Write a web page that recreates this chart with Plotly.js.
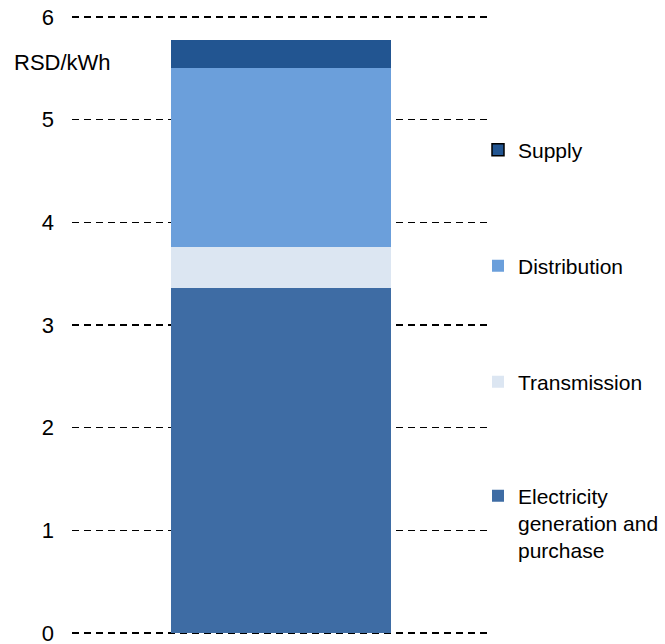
<!DOCTYPE html>
<html>
<head>
<meta charset="utf-8">
<script src="https://cdn.plot.ly/plotly-3.0.1.min.js"></script>
<style>html,body{margin:0;padding:0;background:#fff;}#chart{width:665px;height:644px;}</style>
</head>
<body>
<div id="chart"></div>
<script>
// Data
const categories = ["Price"];
const seriesNames = ["Electricity<br>generation and<br>purchase", "Transmission", "Distribution", "Supply"];
const generation = [3.36];
const transmission = [0.40];
const distribution = [1.74];
const supply = [0.28];
const yTickValues = [0, 1, 2, 3, 4, 5, 6];
const yTickLabels = ["0", "1", "2", "3", "4", "5", "6"];
const unitLabel = "RSD/kWh";

const colors = {
  generation: "#3E6CA4",
  transmission: "#DCE6F2",
  distribution: "#6B9FDB",
  supply: "#225591"
};
const FONT = "Liberation Sans, Arial, sans-serif";

const traces = [
  {type: "bar", x: categories, y: generation, name: seriesNames[0],
   marker: {color: colors.generation}, legend: "legend4"},
  {type: "bar", x: categories, y: transmission, name: seriesNames[1],
   marker: {color: colors.transmission}, legend: "legend3"},
  {type: "bar", x: categories, y: distribution, name: seriesNames[2],
   marker: {color: colors.distribution}, legend: "legend2"},
  {type: "bar", x: categories, y: supply, name: seriesNames[3],
   marker: {color: colors.supply}, showlegend: false},
  // legend-only entry for Supply (outlined symbol as in the reference)
  {type: "bar", x: categories, y: [null], name: seriesNames[3],
   marker: {color: colors.supply, line: {color: "#000", width: 1.5}}, legend: "legend"}
];

// y range padded by 0.01 so the 0 and 6 gridlines are drawn
const yMin = -0.01, yMax = 6.01;
const W = 665, H = 644;
const plotTop = 16, plotBottom = 634;
const plotLeft = 72, plotRight = 490;
function cy(pix) { return 1 - pix / H; }
function cx(pix) { return pix / W; }

const legendBase = {
  bgcolor: "rgba(0,0,0,0)", borderwidth: 0,
  font: {family: FONT, size: 21, color: "#000"},
  xref: "container", yref: "container",
  xanchor: "left", yanchor: "middle", x: cx(478), itemwidth: 30
};

const layout = {
  width: W, height: H,
  margin: {l: plotLeft, r: W - plotRight, t: plotTop, b: H - plotBottom, pad: 0, autoexpand: false},
  paper_bgcolor: "#fff", plot_bgcolor: "#fff",
  barmode: "stack",
  bargap: 0.476,
  font: {family: FONT, size: 21, color: "#000"},
  xaxis: {showticklabels: false, showgrid: false, zeroline: false, showline: false, ticks: "", fixedrange: true, automargin: false},
  yaxis: {
    range: [yMin, yMax], tickvals: yTickValues, ticktext: yTickLabels,
    showgrid: true, gridcolor: "#000", gridwidth: 1.5, griddash: "7px,5px",
    zeroline: false, showline: false, ticks: "", automargin: false,
    ticklabelstandoff: 17, ticklabeloverflow: "allow",
    tickfont: {family: FONT, size: 22, color: "#000"}
  },
  showlegend: true,
  legend: Object.assign({}, legendBase, {y: cy(150)}),
  legend2: Object.assign({}, legendBase, {y: cy(266)}),
  legend3: Object.assign({}, legendBase, {y: cy(382)}),
  legend4: Object.assign({}, legendBase, {y: cy(523), valign: "top"}),
  annotations: [{
    text: unitLabel, xref: "paper", yref: "paper",
    x: (12 - plotLeft) / (plotRight - plotLeft), y: (plotBottom - 62) / (plotBottom - plotTop),
    xanchor: "left", yanchor: "middle",
    showarrow: false, font: {family: FONT, size: 22, color: "#000"}
  }]
};

Plotly.newPlot("chart", traces, layout, {staticPlot: true, displayModeBar: false});
</script>
</body>
</html>
